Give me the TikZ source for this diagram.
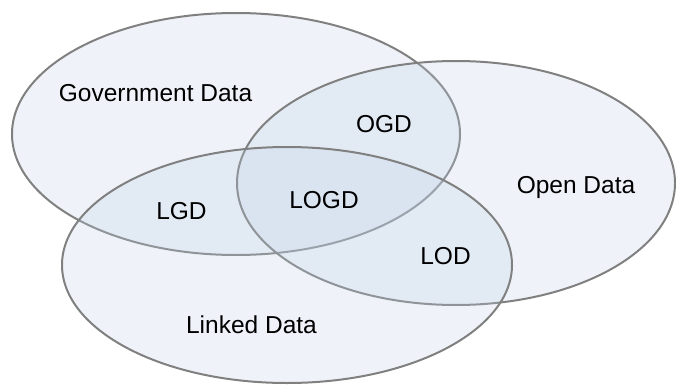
\documentclass[tikz,border=0pt]{standalone}
\usepackage{fontspec}
\setmainfont{Liberation Sans}
\usepackage{tikz}
\definecolor{setfill}{RGB}{190,208,230}
\definecolor{setline}{RGB}{128,128,128}
\tikzstyle{dataset}=[draw=setline, line width=2pt, fill=setfill, fill opacity=0.25]
\tikzstyle{setlabel}=[font=\fontsize{24.5}{29}\selectfont, text=black, inner sep=0pt, anchor=base]

\begin{document}
\begin{tikzpicture}[x=1pt, y=-1pt]
                    \useasboundingbox (0,0) rectangle (676,385);
                    \draw[dataset] (236, 134) ellipse [x radius=224, y radius=121];
                    \draw[dataset] (456, 183) ellipse [x radius=219, y radius=122];
                    \draw[dataset] (287, 265) ellipse [x radius=225, y radius=118];
                    \node[setlabel] (gov)    at (155.5, 102) {Government Data};
                    \node[setlabel] (open)   at (576,   193) {Open Data};
                    \node[setlabel] (linked) at (251.5, 333) {Linked Data};
                    \node[setlabel] (ogd)    at (384,   132) {OGD};
                    \node[setlabel] (lgd)    at (181.5, 219) {LGD};
                    \node[setlabel] (logd)   at (324,   208) {LOGD};
                    \node[setlabel] (lod)    at (445.5, 264) {LOD};
                \end{tikzpicture}
\end{document}
